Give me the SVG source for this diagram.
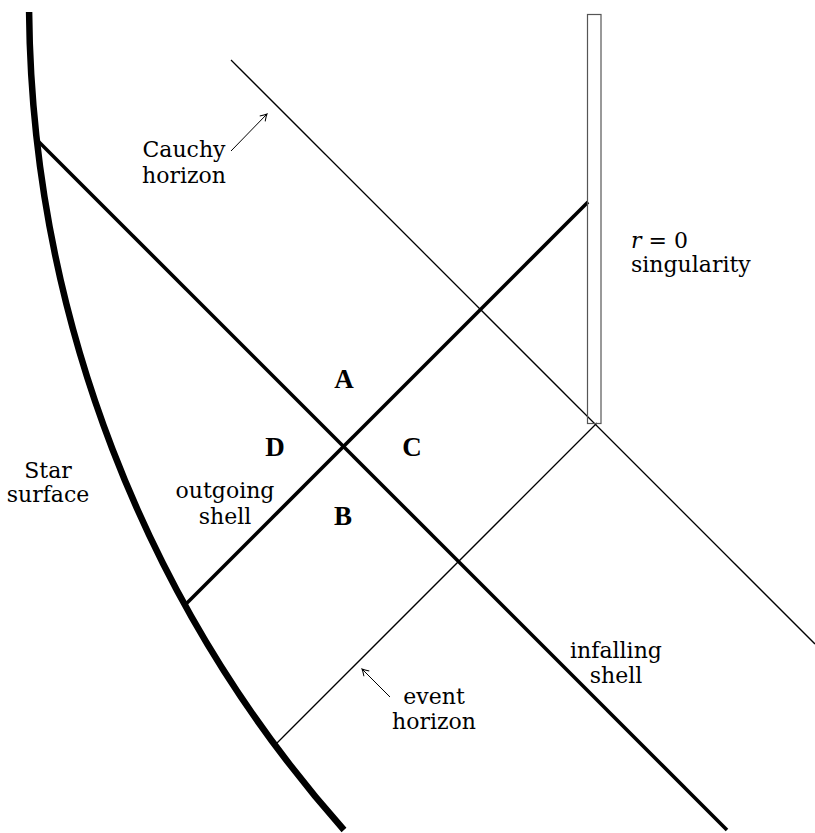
<svg xmlns="http://www.w3.org/2000/svg" width="815" height="833" viewBox="0 0 815 833">
  <style>
    .lbl { font-family: "DejaVu Serif", "Liberation Serif", serif; font-size: 22px; fill: #000; text-anchor: middle; }
    .reg { font-family: "Liberation Serif", "DejaVu Serif", serif; font-size: 27px; font-weight: bold; fill: #000; text-anchor: middle; }
    .thick { stroke: #000; stroke-width: 3.6; fill: none; }
    .thin { stroke: #000; stroke-width: 1.3; fill: none; }
    .ptr { stroke: #000; stroke-width: 1; fill: none; }
  </style>
  <defs>
    <marker id="to" markerUnits="userSpaceOnUse" markerWidth="12" markerHeight="12" viewBox="-8 -6 10 12" refX="0" refY="0" orient="auto">
      <path d="M -6.5 -3.8 Q -2.5 -1 0 0 Q -2.5 1 -6.5 3.8" stroke="#000" stroke-width="1" fill="none"/>
    </marker>
  </defs>
  <rect width="815" height="833" fill="#fff"/>

  <g id="connectors">
    <path id="star-surface" d="M 29.1 12 A 1251 1251 0 0 0 344 830" stroke="#000" stroke-width="6.5" fill="none"/>
    <line id="infalling-shell" class="thick" x1="37" y1="140" x2="727" y2="830"/>
    <line id="outgoing-shell" class="thick" x1="185" y1="605" x2="588" y2="202"/>
    <line id="cauchy-horizon" class="thin" x1="231" y1="60" x2="815" y2="644"/>
    <line id="event-horizon" class="thin" x1="275" y1="745" x2="597" y2="423"/>
    <line id="cauchy-pointer" class="ptr" x1="231" y1="151" x2="267" y2="114" marker-end="url(#to)"/>
    <line id="event-pointer" class="ptr" x1="390" y1="697" x2="362" y2="669" marker-end="url(#to)"/>
  </g>

  <g id="singularity">
    <rect x="587.5" y="14.5" width="13.5" height="409" fill="none" stroke="#555" stroke-width="1.2"/>
  </g>

  <g id="label-cauchy">
    <text class="lbl" x="184" y="157">Cauchy</text>
    <text class="lbl" x="184" y="183">horizon</text>
  </g>
  <g id="label-singularity">
    <text class="lbl" x="631" y="248" style="text-anchor:start"><tspan style="font-style:italic">r</tspan> = 0</text>
    <text class="lbl" x="631" y="272" style="text-anchor:start">singularity</text>
  </g>
  <g id="label-star">
    <text class="lbl" x="48" y="478">Star</text>
    <text class="lbl" x="48" y="502">surface</text>
  </g>
  <g id="label-outgoing">
    <text class="lbl" x="225" y="498">outgoing</text>
    <text class="lbl" x="225" y="524">shell</text>
  </g>
  <g id="label-event">
    <text class="lbl" x="434" y="704">event</text>
    <text class="lbl" x="434" y="729">horizon</text>
  </g>
  <g id="label-infalling">
    <text class="lbl" x="616" y="658">infalling</text>
    <text class="lbl" x="616" y="683">shell</text>
  </g>
  <g id="region-A"><text class="reg" x="344" y="388">A</text></g>
  <g id="region-B"><text class="reg" x="343" y="525">B</text></g>
  <g id="region-C"><text class="reg" x="412" y="456">C</text></g>
  <g id="region-D"><text class="reg" x="275" y="456">D</text></g>
</svg>
